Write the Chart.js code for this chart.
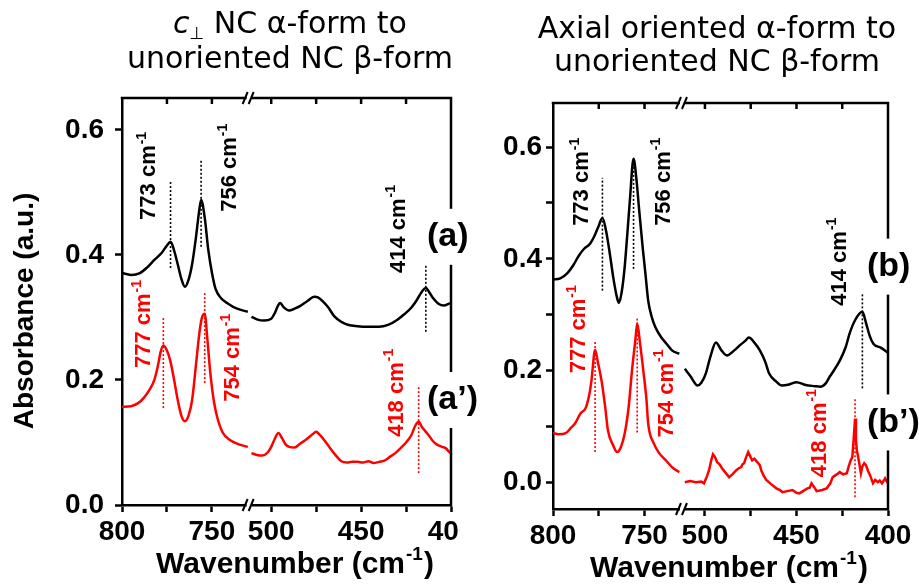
<!DOCTYPE html>
<html lang="en">

<head>
    <meta charset="UTF-8">
    <title>FTIR α-form / β-form</title>
    <script src="https://cdn.jsdelivr.net/npm/chart.js"></script>
    <style>
        body {
            margin: 0;
            background: #fff;
            width: 919px;
            height: 587px;
            position: relative;
            overflow: hidden;
        }

        .painel {
            position: absolute;
            top: 0;
            height: 587px;
        }

        .titulo {
            position: absolute;
            width: 460px;
            font-family: 'DejaVu Sans', sans-serif;
            font-size: 30px;
            text-align: center;
            color: #000;
            white-space: nowrap;
        }

        .sub {
            font-size: 17px;
            vertical-align: -6px;
            line-height: 0;
        }
    </style>
</head>

<body>
    <div class="painel" style="left:0;width:485px"><canvas id="graficoA"></canvas></div>
    <div class="painel" style="left:460px;width:459px"><canvas id="graficoB"></canvas></div>

    <div class="titulo" style="left:60px;top:5px;line-height:35px"><i>c</i><span class="sub">⊥</span> NC α-form to<br>unoriented NC β-form</div>
    <div class="titulo" style="left:487px;top:11px;line-height:33px">Axial oriented α-form to<br>unoriented NC β-form</div>
</body>

</html>
<script>
    // eixo x quebrado: trecho alto (800-729) e trecho baixo (512-400)
    const faixaAlta = [729, 800];
    const faixaBaixa = [400, 512];
    const ticksAlta = [800, 775, 750];
    const ticksBaixa = [500, 475, 450, 425, 400];
    const rotulosX = [800, 750, 500, 450, 400];

    const ticksYA = [0, 0.2, 0.4, 0.6];
    const ticksYB = [0, 0.1, 0.2, 0.3, 0.4, 0.5, 0.6];
    const rotulosYB = [0, 0.2, 0.4, 0.6];

    // espectro (a) - [número de onda, absorbância]
    const espA_alta = [
        [800, 0.371], [795, 0.368], [790, 0.371], [786, 0.380], [782, 0.392], [778, 0.403],
        [775, 0.415], [773, 0.421], [771, 0.407], [769, 0.385], [767, 0.362], [765, 0.349],
        [763, 0.360], [761, 0.385], [759, 0.425], [757, 0.472], [756, 0.488], [754, 0.460],
        [752, 0.408], [750, 0.372], [748, 0.346], [745, 0.331], [741, 0.322], [736, 0.314],
        [730, 0.309]
    ];
    const espA_baixa = [
        [511, 0.301], [508, 0.297], [504, 0.295], [500, 0.298], [498, 0.307], [496, 0.320],
        [495, 0.323], [493, 0.316], [490, 0.311], [487, 0.314], [484, 0.318], [480, 0.326],
        [476, 0.333], [474, 0.332], [471, 0.325], [468, 0.315], [465, 0.302], [461, 0.293],
        [457, 0.288], [452, 0.286], [447, 0.285], [440, 0.285], [435, 0.288], [430, 0.296],
        [426, 0.305], [422, 0.316], [419, 0.328], [416, 0.342], [414, 0.347], [412, 0.340],
        [410, 0.331], [407, 0.322], [404, 0.319], [401, 0.322], [400, 0.323]
    ];

    // espectro (a')
    const espA2_alta = [
        [800, 0.157], [795, 0.158], [791, 0.163], [788, 0.171], [785, 0.183], [782, 0.200],
        [780, 0.223], [778.5, 0.245], [777, 0.255], [775, 0.247], [773, 0.229], [771, 0.200],
        [769, 0.168], [767, 0.143], [765, 0.134], [763, 0.143], [761, 0.168], [759, 0.220],
        [757, 0.274], [755.5, 0.300], [754, 0.306], [752.5, 0.265], [751, 0.215], [749, 0.168],
        [747, 0.140], [744, 0.116], [740, 0.104], [735, 0.097], [730, 0.093]
    ];
    const espA2_baixa = [
        [511, 0.083], [508, 0.080], [505, 0.079], [502, 0.084], [500, 0.093], [498, 0.106],
        [496, 0.115], [494, 0.107], [492, 0.097], [490, 0.093], [487, 0.092], [484, 0.098],
        [480, 0.106], [477, 0.113], [475, 0.117], [473, 0.112], [470, 0.102], [467, 0.090],
        [464, 0.079], [461, 0.070], [458, 0.068], [455, 0.069], [452, 0.069], [449, 0.068],
        [446, 0.070], [443, 0.067], [440, 0.069], [437, 0.071], [434, 0.077], [431, 0.083],
        [428, 0.091], [425, 0.100], [422, 0.112], [420, 0.126], [418, 0.133], [416, 0.124],
        [414, 0.117], [412, 0.110], [410, 0.102], [408, 0.097], [405, 0.093], [403, 0.091],
        [401, 0.085], [400, 0.083]
    ];

    // espectro (b)
    const espB_alta = [
        [800, 0.363], [796, 0.365], [792, 0.375], [789, 0.388], [786, 0.405], [783, 0.418],
        [780, 0.426], [777.5, 0.440], [775.5, 0.455], [773, 0.473], [771, 0.450], [769, 0.410],
        [767, 0.365], [765, 0.330], [764, 0.321], [762.5, 0.340], [761, 0.380], [759.5, 0.440],
        [758, 0.505], [756, 0.579], [754.5, 0.545], [753, 0.490], [751, 0.420], [749.5, 0.373],
        [748, 0.325], [746, 0.295], [744, 0.277], [741, 0.260], [738, 0.248], [735, 0.236],
        [731, 0.230]
    ];
    const espB_baixa = [
        [511, 0.203], [508, 0.190], [504, 0.173], [502, 0.178], [499.5, 0.195], [497, 0.225],
        [494, 0.250], [491, 0.236], [488, 0.227], [484, 0.236], [481, 0.245], [478, 0.253],
        [476, 0.259], [473, 0.250], [470, 0.236], [467, 0.215], [465, 0.195], [461, 0.180],
        [458, 0.173], [454, 0.175], [450, 0.179], [445, 0.174], [440, 0.172], [437, 0.171],
        [434, 0.177], [432, 0.188], [429, 0.203], [426, 0.220], [423, 0.243], [421, 0.266],
        [418, 0.290], [414, 0.305], [412, 0.285], [410, 0.262], [408, 0.248], [404, 0.241],
        [400, 0.232]
    ];

    // espectro (b')
    const espB2_alta = [
        [800, 0.088], [797, 0.086], [793, 0.088], [790, 0.098], [788, 0.105], [785, 0.123],
        [782, 0.134], [780, 0.160], [779, 0.182], [777, 0.237], [775.5, 0.215], [773.5, 0.182],
        [771.5, 0.135], [770, 0.093], [767, 0.065], [765, 0.054], [763, 0.062], [760.5, 0.093],
        [758.5, 0.140], [757, 0.195], [755, 0.255], [754, 0.284], [752.5, 0.250], [750.5, 0.195],
        [749, 0.150], [748, 0.105], [745, 0.070], [742, 0.052], [738, 0.038], [735, 0.027],
        [731, 0.018]
    ];
    const espB2_baixa = [
        [511, 0.000], [508, 0.002], [505, 0.000], [502, 0.001], [500.5, -0.002], [499, 0.010],
        [497.8, 0.021], [496.5, 0.040], [495.6, 0.050], [494.5, 0.045], [493.4, 0.036], [492, 0.032],
        [490.7, 0.025], [489, 0.018], [486.8, 0.009], [485, 0.014], [483, 0.021], [481.5, 0.025],
        [480.2, 0.027], [479.5, 0.032], [478.6, 0.034], [477.5, 0.045], [476.4, 0.054], [475.5, 0.048],
        [474.2, 0.039], [473, 0.042], [471.4, 0.036], [470, 0.030], [469.2, 0.021], [468, 0.012],
        [466.5, 0.004], [464, -0.003], [461, -0.011], [459, -0.014], [457.7, -0.018], [455, -0.016],
        [452.2, -0.014], [450, -0.019], [448.4, -0.020], [446, -0.015], [444, -0.011], [442.8, -0.010],
        [441.8, -0.002], [440.5, -0.008], [439, -0.016], [436, -0.014], [433.5, -0.011], [431.5, -0.002],
        [430.2, 0.009], [428, 0.014], [426.4, 0.018], [424.5, 0.014], [422.5, 0.016], [421.5, 0.028],
        [420.5, 0.038], [419.5, 0.045], [418.8, 0.075], [418, 0.114], [417.5, 0.075], [417, 0.057],
        [416.3, 0.045], [415.5, 0.030], [414.8, 0.016], [414, 0.028], [413, 0.034], [412, 0.030],
        [411, 0.021], [409.5, 0.010], [408.2, -0.002], [407, 0.004], [405.5, 0.000], [404.5, 0.003],
        [403.3, -0.002], [402.3, 0.003], [401.6, 0.007], [400.8, 0.002], [400, -0.002]
    ];

    // picos marcados: [número de onda, início e fim da linha pontilhada]
    const picosA = [[773, 0.379, 0.517], [756, 0.413, 0.552], [414, 0.277, 0.384]];
    const picosA2 = [[777, 0.155, 0.299], [754, 0.195, 0.339], [418, 0.051, 0.192]];
    const picosB = [[773, 0.343, 0.545], [756, 0.382, 0.575], [414, 0.168, 0.339]];
    const picosB2 = [[777, 0.054, 0.254], [754, 0.089, 0.293], [418, -0.027, 0.152]];

    // onde fica o pé de cada rótulo vertical (coordenadas do gráfico)
    const posA = [[786.1, 0.456], [741.1, 0.469], [430.2, 0.371]];
    const posA2 = [[788.9, 0.219], [739.4, 0.165], [431.3, 0.109]];
    const posB = [[785.2, 0.459], [740.7, 0.459], [427.5, 0.316]];
    const posB2 = [[786.8, 0.195], [739.0, 0.080], [438.5, 0.009]];

    const fonte = "'Liberation Sans', Arial, sans-serif";
    const PRETO = '#000000';
    const VERMELHO = '#ff0000';

    function eixoDe(wn) {
        return wn > 600 ? 'xa' : 'xb';
    }

    function curva(dados, cor, suave) {
        return {
            data: dados,
            xAxisID: eixoDe(dados[0][0]),
            borderColor: cor,
            borderWidth: 2.5,
            pointRadius: 0,
            fill: false,
            cubicInterpolationMode: suave ? 'monotone' : 'default',
            tension: 0
        };
    }

    function pontilhadas(picos, cor) {
        return picos.map(p => ({
            data: [[p[0], p[1]], [p[0], p[2]]],
            xAxisID: eixoDe(p[0]),
            borderColor: cor,
            borderWidth: 1.6,
            borderDash: [2, 2],
            pointRadius: 0,
            fill: false
        }));
    }

    function rotulos(picos, pos, cor) {
        return picos.map((p, i) => ({ txt: String(p[0]), wn: pos[i][0], y: pos[i][1], cor: cor }));
    }

    // texto com expoente "-1"
    function escreveSup(ctx, base, sup, x, y, tam, alinh) {
        ctx.font = 'bold ' + tam + 'px ' + fonte;
        const wBase = ctx.measureText(base).width;
        ctx.font = 'bold ' + Math.round(tam * 0.62) + 'px ' + fonte;
        const wSup = ctx.measureText(sup).width;
        let x0 = x;
        if (alinh === 'center') x0 = x - (wBase + wSup + 1) / 2;
        ctx.textAlign = 'left';
        ctx.textBaseline = 'alphabetic';
        ctx.font = 'bold ' + tam + 'px ' + fonte;
        ctx.fillText(base, x0, y);
        ctx.font = 'bold ' + Math.round(tam * 0.62) + 'px ' + fonte;
        ctx.fillText(sup, x0 + wBase + 1, y - tam * 0.42);
        return x0 + wBase + wSup + 1;
    }

    // moldura, quebra do eixo, rótulos dos picos e títulos
    const decoracao = {
        id: 'decoracao',
        afterDraw(chart, args, op) {
            const { ctx, chartArea: a, scales } = chart;
            const xa = scales.xa, xb = scales.xb, y = scales.y;
            ctx.save();

            // o painel vizinho cobre o fim dos rótulos do eixo x
            if (op.corteX) {
                ctx.fillStyle = '#fff';
                ctx.fillRect(op.corteX, a.bottom + 9, chart.width - op.corteX, chart.height);
            }

            ctx.strokeStyle = PRETO;
            ctx.lineWidth = 2.5;
            ctx.lineCap = 'square';
            ctx.beginPath();
            ctx.moveTo(a.left, a.top);
            ctx.lineTo(a.right, a.top);
            ctx.lineTo(a.right, a.bottom);
            ctx.stroke();

            // ticks internos no topo
            ctx.lineCap = 'butt';
            ctx.beginPath();
            ticksAlta.forEach(v => {
                const px = xa.getPixelForValue(v);
                if (px > a.left + 2) { ctx.moveTo(px, a.top); ctx.lineTo(px, a.top + 6); }
            });
            ticksBaixa.forEach(v => {
                const px = xb.getPixelForValue(v);
                if (px < a.right - 2) { ctx.moveTo(px, a.top); ctx.lineTo(px, a.top + 6); }
            });
            ctx.stroke();

            // marca de quebra //
            const bx = xa.right;
            [a.top, a.bottom].forEach(yy => {
                ctx.fillStyle = '#fff';
                ctx.fillRect(bx - 3, yy - 2, 5, 4);
                ctx.beginPath();
                ctx.lineWidth = 2;
                ctx.moveTo(bx - 7, yy + 6);
                ctx.lineTo(bx - 2, yy - 6);
                ctx.moveTo(bx - 1, yy + 6);
                ctx.lineTo(bx + 4, yy - 6);
                ctx.stroke();
            });

            // rótulos verticais dos picos
            op.rotulos.forEach(r => {
                const sc = r.wn > 600 ? xa : xb;
                ctx.save();
                ctx.translate(sc.getPixelForValue(r.wn), y.getPixelForValue(r.y));
                ctx.rotate(-Math.PI / 2);
                ctx.fillStyle = r.cor;
                escreveSup(ctx, r.txt + ' cm', '-1', 0, 8, 22, 'left');
                ctx.restore();
            });

            // (a), (a'), ... sobre a borda direita
            ctx.font = 'bold 34px ' + fonte;
            ctx.textAlign = 'left';
            ctx.textBaseline = 'middle';
            op.marcas.forEach(m => {
                const py = y.getPixelForValue(m.y);
                const px = a.right + op.dxMarca;
                const w = ctx.measureText(m.txt).width;
                ctx.fillStyle = '#fff';
                ctx.fillRect(px - 1, py - 28, w + 3, 56);
                ctx.fillStyle = PRETO;
                ctx.fillText(m.txt, px, py);
            });

            // título do eixo x
            ctx.fillStyle = PRETO;
            const cx = (a.left + a.right) / 2 + 11;
            const fim = escreveSup(ctx, 'Wavenumber (cm', '-1', cx - 8, a.bottom + 68, 30, 'center');
            ctx.font = 'bold 30px ' + fonte;
            ctx.fillText(')', fim + 1, a.bottom + 68);

            // título do eixo y
            if (op.tituloY) {
                ctx.save();
                ctx.translate(25, op.tituloYc);
                ctx.rotate(-Math.PI / 2);
                ctx.font = 'bold 28px ' + fonte;
                ctx.textAlign = 'center';
                ctx.textBaseline = 'middle';
                ctx.fillText(op.tituloY, 0, 0);
                ctx.restore();
            }
            ctx.restore();
        }
    };

    function eixoX(faixa, ticks, peso, altura) {
        return {
            type: 'linear',
            position: 'bottom',
            stack: 'wn',
            stackWeight: peso,
            reverse: true,
            min: faixa[0],
            max: faixa[1],
            afterBuildTicks: s => { s.ticks = ticks.map(v => ({ value: v })); },
            afterFit: s => {
                s.height = altura;
                // os rótulos das pontas podem sair do canvas, não reservar espaço
                s.paddingLeft = 0;
                s.paddingRight = 0;
            },
            grid: { drawOnChartArea: false, tickLength: 7, tickWidth: 2.5, tickColor: PRETO },
            border: { color: PRETO, width: 2.5 },
            ticks: {
                color: PRETO,
                padding: 3,
                autoSkip: false,
                maxRotation: 0,
                font: { family: fonte, size: 28, weight: 'bold' },
                callback: v => rotulosX.includes(v) ? String(v) : ''
            }
        };
    }

    function eixoY(min, max, ticks, mostrar, largura, pad) {
        return {
            min: min,
            max: max,
            afterBuildTicks: s => { s.ticks = ticks.map(v => ({ value: v })); },
            afterFit: s => {
                s.width = largura;
                s.paddingTop = 0;
                s.paddingBottom = 0;
            },
            grid: { drawOnChartArea: false, tickLength: 7, tickWidth: 2.5, tickColor: PRETO },
            border: { color: PRETO, width: 2.5 },
            ticks: {
                color: PRETO,
                padding: pad,
                font: { family: fonte, size: 28, weight: 'bold' },
                callback: v => mostrar.some(m => Math.abs(m - v) < 1e-6) ? v.toFixed(1) : ''
            }
        };
    }

    // painel da esquerda: c-perpendicular NC alfa -> NC beta
    const configA = {
        type: 'line',
        data: {
            datasets: [
                curva(espA_alta, PRETO, true), curva(espA_baixa, PRETO, true),
                curva(espA2_alta, VERMELHO, true), curva(espA2_baixa, VERMELHO, true),
                ...pontilhadas(picosA, PRETO), ...pontilhadas(picosA2, VERMELHO)
            ]
        },
        options: {
            responsive: true,
            maintainAspectRatio: false,
            animation: false,
            events: [],
            layout: { padding: { top: 98, right: 34, bottom: 0, left: 0 } },
            plugins: {
                legend: { display: false },
                tooltip: { enabled: false },
                decoracao: {
                    rotulos: [...rotulos(picosA, posA, PRETO), ...rotulos(picosA2, posA2, VERMELHO)],
                    marcas: [{ txt: '(a)', y: 0.429 }, { txt: '(a’)', y: 0.168 }],
                    dxMarca: -24,
                    corteX: 460,
                    tituloY: 'Absorbance (a.u.)',
                    tituloYc: 311
                }
            },
            scales: {
                xa: eixoX(faixaAlta, ticksAlta, 71, 82),
                xb: eixoX(faixaBaixa, ticksBaixa, 112, 82),
                y: eixoY(0, 0.651, ticksYA, ticksYA, 122, 11)
            }
        },
        plugins: [decoracao]
    };

    // painel da direita: alfa axial -> NC beta
    const configB = {
        type: 'line',
        data: {
            datasets: [
                curva(espB_alta, PRETO, true), curva(espB_baixa, PRETO, true),
                curva(espB2_alta, VERMELHO, true), curva(espB2_baixa, VERMELHO, false),
                ...pontilhadas(picosB, PRETO), ...pontilhadas(picosB2, VERMELHO)
            ]
        },
        options: {
            responsive: true,
            maintainAspectRatio: false,
            animation: false,
            events: [],
            layout: { padding: { top: 103, right: 31, bottom: 0, left: 0 } },
            plugins: {
                legend: { display: false },
                tooltip: { enabled: false },
                decoracao: {
                    rotulos: [...rotulos(picosB, posB, PRETO), ...rotulos(picosB2, posB2, VERMELHO)],
                    marcas: [{ txt: '(b)', y: 0.386 }, { txt: '(b’)', y: 0.107 }],
                    dxMarca: -21,
                    corteX: null,
                    tituloY: null
                }
            },
            scales: {
                xa: eixoX(faixaAlta, ticksAlta, 71, 78),
                xb: eixoX(faixaBaixa, ticksBaixa, 112, 78),
                y: eixoY(-0.048, 0.679, ticksYB, rotulosYB, 93, 4)
            }
        },
        plugins: [decoracao]
    };

    const graficoA = new Chart(document.getElementById('graficoA'), configA);
    const graficoB = new Chart(document.getElementById('graficoB'), configB);
</script>
